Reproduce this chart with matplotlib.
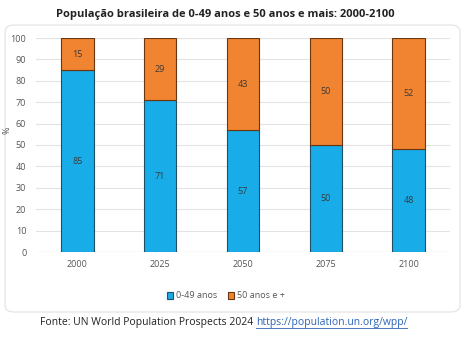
import matplotlib
matplotlib.use("Agg")
import matplotlib.pyplot as plt
from matplotlib.patches import FancyBboxPatch

years = ["2000", "2025", "2050", "2075", "2100"]
young = [85, 71, 57, 50, 48]
old = [15, 29, 43, 50, 52]
yticks = [0, 10, 20, 30, 40, 50, 60, 70, 80, 90, 100]

plt.rcParams['font.family'] = ['Open Sans', 'DejaVu Sans']

fig = plt.figure(figsize=(4.67, 3.41), dpi=100)
frame = FancyBboxPatch((5/467, 1-312/341), 455/467, 287/341,
                       boxstyle="round,pad=0,rounding_size=0.02",
                       transform=fig.transFigure, facecolor="white",
                       edgecolor="#e2e2e2", linewidth=0.8, zorder=-5)
fig.patches.append(frame)

ax = fig.add_axes([36/467, 1-252/341, 414/467, 214/341])
ax.set_zorder(2)
ax.set_facecolor("none")
x = range(len(years))
blue = "#18ADE8"
orange = "#F08431"
b1 = ax.bar(x, young, width=0.39, color=blue, edgecolor="#1d4f66", linewidth=0.8, zorder=3)
b2 = ax.bar(x, old, width=0.39, bottom=young, color=orange, edgecolor="#6b3510", linewidth=0.8, zorder=3)
for i, (a, b) in enumerate(zip(young, old)):
    ax.text(i, a/2, str(a), ha="center", va="center", fontsize=6.5, color="#3a3a3a", zorder=4)
    ax.text(i, a + b/2, str(b), ha="center", va="center", fontsize=6.5, color="#3a3a3a", zorder=4)

ax.set_xlim(-0.5, 4.5)
ax.set_ylim(0, 100)
ax.set_yticks(yticks)
ax.set_xticks(list(x))
ax.set_xticklabels(years)
ax.tick_params(axis="both", length=0, labelsize=6.5, labelcolor="#555555")
ax.tick_params(axis="x", pad=6)
ax.tick_params(axis="y", pad=7)
ax.grid(axis="y", color="#e3e3e3", linewidth=0.8, zorder=0)
for s in ax.spines.values():
    s.set_visible(False)
ax.axhline(0, color="#cfcfcf", linewidth=0.8, zorder=1)
ax.set_ylabel("%", fontsize=6.5, color="#555555")
ax.yaxis.set_label_coords(-24/414, 0.57)

fig.text(225/467, 1-14/341, "População brasileira de 0-49 anos e 50 anos e mais: 2000-2100",
         ha="center", va="center", fontsize=8, fontweight="bold", color="#222222")

leg = fig.legend([b1, b2], ["0-49 anos", "50 anos e +"], loc="center",
                 bbox_to_anchor=(226/467, 1-296/341), ncol=2, frameon=False,
                 fontsize=6.5, handlelength=0.7, handleheight=0.7, handletextpad=0.3,
                 columnspacing=1.2)
for t in leg.get_texts():
    t.set_color("#555555")

fig.text(256/467, 1-323/341, "Fonte: UN World Population Prospects 2024 ",
         ha="right", va="center", fontsize=7.5, color="#222222")
fig.text(256/467, 1-323/341, "https://population.un.org/wpp/",
         ha="left", va="center", fontsize=7.5, color="#2b63b8")
fig.add_artist(plt.Line2D([256/467, 407/467], [1-328/341, 1-328/341],
                          transform=fig.transFigure, color="#2b63b8", linewidth=0.6))

fig.savefig("out.png", dpi=100)
